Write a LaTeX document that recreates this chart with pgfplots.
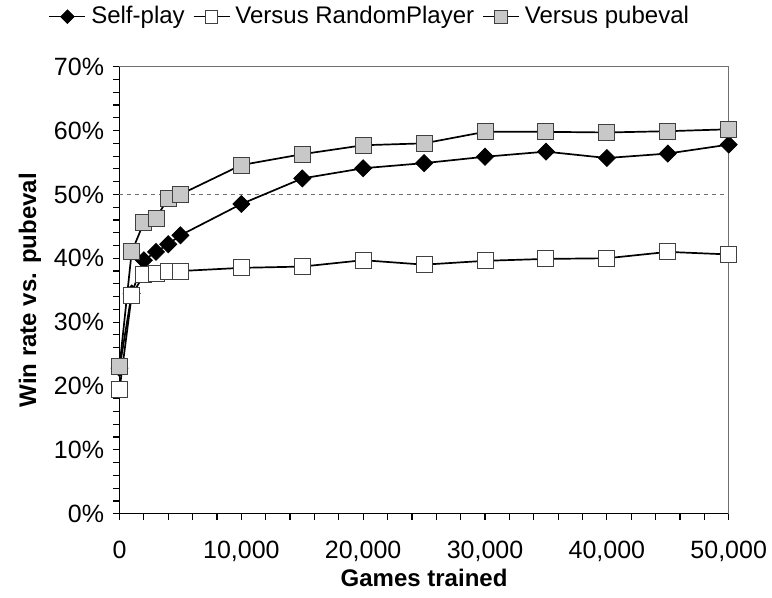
\documentclass[border=0pt]{standalone}
\usepackage{fontspec}
\setmainfont{Liberation Sans}
\usepackage{pgfplots}
\pgfplotsset{compat=1.18}
\definecolor{markgray}{HTML}{C8C8C8}
\definecolor{edgegray}{HTML}{404040}
\definecolor{framegray}{HTML}{707070}

\begin{document}
\begin{tikzpicture}
\useasboundingbox (-59.75pt,-42.15pt) rectangle (326.25pt,256.85pt);
\begin{axis}[
  at={(0,0)}, anchor=south west,
  scale only axis, width=304.6pt, height=223.5pt,
  xmin=0, xmax=50000, ymin=0, ymax=70,
  axis lines=left, axis line style={-, black, line width=0.8pt},
  tick align=outside,
  scaled x ticks=false,
  xtick={0,10000,20000,30000,40000,50000},
  xticklabels={0,{10,000},{20,000},{30,000},{40,000},{50,000}},
  ytick={0,10,20,30,40,50,60,70},
  yticklabels={0\%,10\%,20\%,30\%,40\%,50\%,60\%,70\%},
  minor x tick num=4, minor y tick num=4,
  major tick length=3pt, minor tick length=3pt,
  every tick/.style={black, line width=0.6pt},
  ticklabel style={font=\fontsize{12.5}{14}\selectfont},
  xticklabel style={yshift=-7pt},
  yticklabel style={xshift=-1.2pt},
  xlabel={Games trained}, ylabel={Win rate vs. pubeval},
  label style={font=\bfseries\fontsize{12}{14}\selectfont},
  xlabel style={at={(axis description cs:0.5,-0.144)}, anchor=center},
  ylabel style={at={(axis description cs:-0.147,0.5)}, anchor=center, rotate=0},
  clip=false,
  legend columns=3,
  legend style={draw=none, fill=none, inner sep=0pt,
    at={(axis description cs:-0.117,1.112)}, anchor=west,
    font=\fontsize{12}{14}\selectfont,
    /tikz/every even column/.append style={column sep=2pt},
    /tikz/every odd column/.append style={column sep=0.5pt}},
  legend image code/.code={
    \draw[#1, mark repeat=2, mark phase=2, every mark/.append style={scale=0.8}]
      plot coordinates {(0pt,0pt) (9pt,0pt) (18pt,0pt)};
  },
]
% reference level: even with pubeval
\addplot[forget plot, color=framegray, line width=0.5pt, dash pattern=on 2pt off 2pt]
  coordinates {(0,50) (50000,50)};

% self-play training
\addplot[black, line width=0.85pt, mark=square*, mark size=3pt,
  mark options={rotate=45, fill=black, draw=black, line width=0.4pt}]
  coordinates {(0,22.8) (1000,34.5) (2000,39.7) (3000,41.0) (4000,42.2)
    (5000,43.6) (10000,48.5) (15000,52.5) (20000,54.1) (25000,54.9)
    (30000,55.9) (35000,56.7) (40000,55.7) (45000,56.4) (50000,57.8)};
\addlegendentry{Self-play}

% training against a random opponent
\addplot[black, line width=0.85pt, mark=square*, mark size=4pt,
  mark options={fill=white, draw=edgegray, line width=0.5pt}]
  coordinates {(0,19.4) (1000,34.2) (2000,37.4) (3000,37.6) (4000,38.0)
    (5000,38.0) (10000,38.5) (15000,38.7) (20000,39.7) (25000,39.0)
    (30000,39.6) (35000,39.9) (40000,40.0) (45000,41.0) (50000,40.6)};
\addlegendentry{Versus RandomPlayer}

% training against pubeval
\addplot[black, line width=0.85pt, mark=square*, mark size=4pt,
  mark options={fill=markgray, draw=edgegray, line width=0.5pt}]
  coordinates {(0,23.0) (1000,41.0) (2000,45.6) (3000,46.3) (4000,49.4)
    (5000,50.0) (10000,54.6) (15000,56.3) (20000,57.7) (25000,58.0)
    (30000,59.8) (35000,59.8) (40000,59.7) (45000,59.9) (50000,60.2)};
\addlegendentry{Versus pubeval}

% thin frame on the top and right
\draw[framegray, line width=0.5pt] (rel axis cs:0,1) -- (rel axis cs:1,1) -- (rel axis cs:1,0);
\end{axis}
\end{tikzpicture}
\end{document}
